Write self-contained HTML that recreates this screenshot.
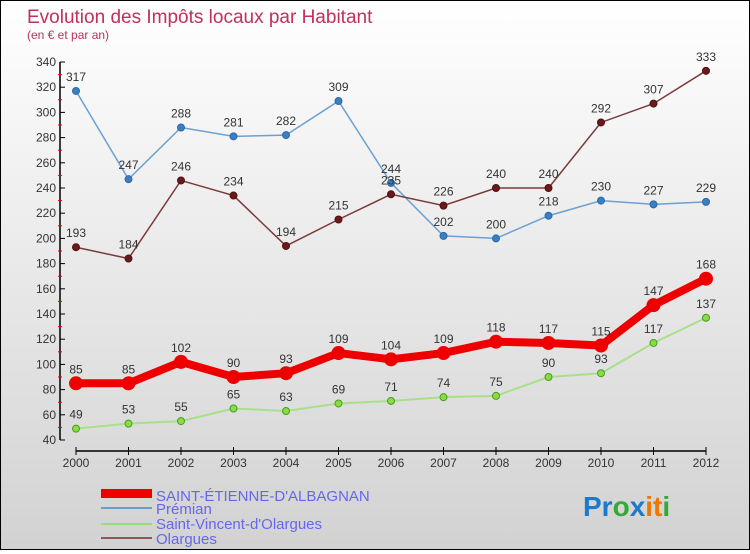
<!DOCTYPE html>
<html><head><meta charset="utf-8"><style>
body{margin:0;width:750px;height:550px;overflow:hidden;font-family:"Liberation Sans",sans-serif}
#wrap{position:relative;width:748px;height:548px;border:1px solid #000;background:linear-gradient(#ffffff,#d2d2d2)}
</style></head><body>
<div id="wrap">
<svg id="chart" width="748" height="548" xmlns="http://www.w3.org/2000/svg">
<text x="26" y="22" font-size="19" fill="#c0305a">Evolution des Impôts locaux par Habitant</text>
<text x="26" y="38" font-size="12" fill="#c0305a">(en € et par an)</text>
<g id="axes"></g><g id="series"></g>
<g>
<rect x="100" y="488" width="51" height="9" fill="#e00"/>
<text x="155" y="500" font-size="15" fill="#6666ee">SAINT-ÉTIENNE-D'ALBAGNAN</text>
<rect x="100" y="506" width="51" height="2" fill="#6c9cc8"/>
<text x="155" y="513" font-size="15" fill="#6666ee">Prémian</text>
<rect x="100" y="522" width="51" height="2" fill="#99dd77"/>
<text x="155" y="528" font-size="15" fill="#6666ee">Saint-Vincent-d'Olargues</text>
<rect x="100" y="536" width="51" height="2" fill="#8a5a5a"/>
<text x="155" y="543" font-size="15" fill="#6666ee">Olargues</text>
</g>
<text x="582" y="515" font-size="28" font-weight="bold"><tspan fill="#1a7acc">Pr</tspan><tspan fill="#33aa33">o</tspan><tspan fill="#1a7acc">x</tspan><tspan fill="#ee7700">it</tspan><tspan fill="#33aa33">i</tspan></text>
</svg></div>
<script>
const years=[2000,2001,2002,2003,2004,2005,2006,2007,2008,2009,2010,2011,2012];
const yTicks=[40,60,80,100,120,140,160,180,200,220,240,260,280,300,320,340];
const stEtienne=[85,85,102,90,93,109,104,109,118,117,115,147,168];
const premian=[317,247,288,281,282,309,244,202,200,218,230,227,229];
const stVincent=[49,53,55,65,63,69,71,74,75,90,93,117,137];
const olargues=[193,184,246,234,194,215,235,226,240,240,292,307,333];
const NS="http://www.w3.org/2000/svg";
function xs(i){return 75+i*52.5;}
function ys(v){return 439-(v-40)*(378/300);}
function mk(t,a,p){const e=document.createElementNS(NS,t);for(const k in a)e.setAttribute(k,a[k]);p.appendChild(e);return e;}
const ax=document.getElementById('axes');
let e=mk('line',{x1:59,y1:ys(340),x2:59,y2:ys(40),stroke:'#000','stroke-width':1.5},ax);

e=mk('line',{x1:xs(0),y1:450,x2:xs(12),y2:450,stroke:'#000','stroke-width':1.5},ax);

yTicks.forEach((v,i)=>{
 mk('line',{x1:59,y1:ys(v),x2:64,y2:ys(v),stroke:'#000'},ax);
 if(i<yTicks.length-1)mk('line',{x1:57,y1:ys(v+10),x2:61,y2:ys(v+10),stroke:'#e00'},ax);
 const t=mk('text',{x:55,y:ys(v)+4,'font-size':12,fill:'#333','text-anchor':'end'},ax);t.textContent=v;
 
});
years.forEach((y,i)=>{
 mk('line',{x1:xs(i),y1:446,x2:xs(i),y2:454,stroke:'#000'},ax);
 const t=mk('text',{x:xs(i),y:466,'font-size':12,fill:'#333','text-anchor':'middle'},ax);t.textContent=y;
 
});
const sg=document.getElementById('series');
function draw(data,name,color,w,r,fill,stroke){
 const g=mk('g',{},sg);
 
 const l=mk('polyline',{points:data.map((v,i)=>xs(i)+','+ys(v)).join(' '),fill:'none',stroke:color,'stroke-width':w},g);
 
 data.forEach((v,i)=>{
  const c=mk('circle',{cx:xs(i),cy:ys(v),r:r,fill:fill,stroke:stroke,'stroke-width':1},g);
  
  const t=mk('text',{x:xs(i),y:ys(v)-10,'font-size':12,fill:'#333','text-anchor':'middle'},g);t.textContent=v;
  
 });
}
draw(premian,'premian','#6ca0d0',1.5,3.5,'#3a80c0','#2a6aa8');
draw(olargues,'olargues','#7a3a3a',1.5,3.5,'#6a1a1a','#501010');
draw(stVincent,'saint-vincent','#a8e08a',2,3.5,'#88dd44','#4a9a20');
draw(stEtienne,'saint-etienne','#ee0000',8,6.5,'#ee0000','#ee0000');
</script>
</body></html>
